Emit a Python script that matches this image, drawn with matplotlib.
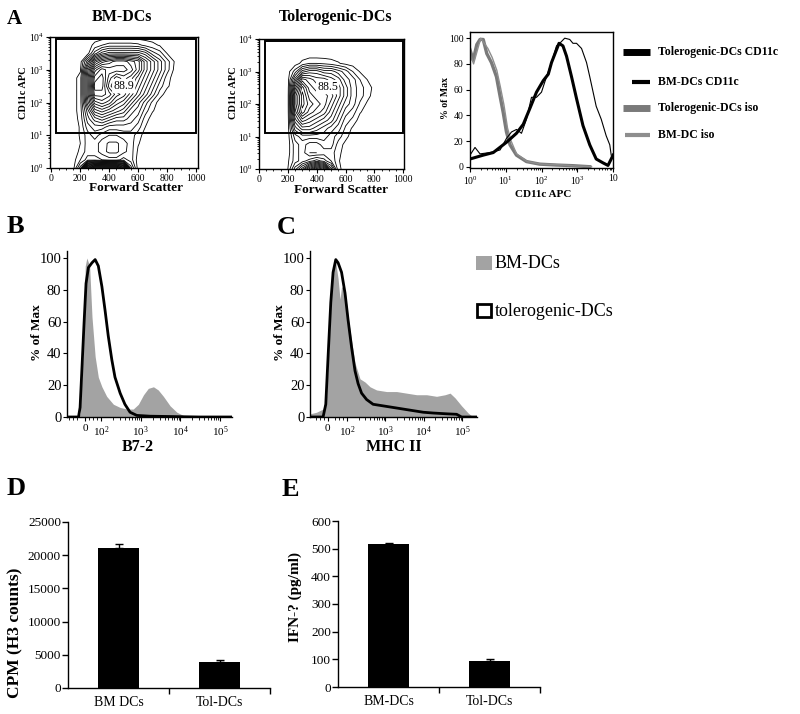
import numpy as np
import matplotlib.pyplot as plt
from matplotlib.lines import Line2D
from matplotlib.patches import Rectangle

plt.rcParams['font.family'] = ['Liberation Serif', 'DejaVu Serif']
plt.rcParams['mathtext.fontset'] = 'custom'
plt.rcParams['mathtext.rm'] = 'Liberation Serif'
plt.rcParams['axes.linewidth'] = 1.0

# ---------------- panel A: FSC vs CD11c contour maps ----------------
# density given as "contour depth" (number of enclosing contour lines)
fsc_grid = np.arange(150, 901, 50)          # forward scatter
cd11c_grid = np.arange(0, 4.01, 0.25)       # log10 CD11c APC

bm_density = np.array([
    # 150  200  250  300  350  400  450  500  550  600  650  700  750  800  850  900
    [0, 4, 15, 18, 18, 18, 18, 15, 4, 0, 0, 0, 0, 0, 0, 0],                       # 10^0
    [0, 1.5, 3, 3, 2.5, 2, 2, 3, 2, 0, 0, 0, 0, 0, 0, 0],
    [0, 0.7, 2, 2, 1, 0.2, 0.2, 1.2, 2, 0.3, 0, 0, 0, 0, 0, 0],
    [0, 0.5, 2, 2, 1, 0.3, 0.3, 1, 2, 0.6, 0, 0, 0, 0, 0, 0],
    [0, 0.6, 2, 3, 2, 1.5, 1.5, 2, 2, 1, 0, 0, 0, 0, 0, 0],                       # 10^1
    [0, 0.6, 3, 4, 4, 3, 3, 3, 3, 2, 0.5, 0, 0, 0, 0, 0],
    [0, 0.8, 4, 6, 7, 6, 5, 5, 4, 3, 1, 0, 0, 0, 0, 0],
    [0, 1, 5, 9, 10, 9, 8, 7, 5, 4, 2, 0.6, 0, 0, 0, 0],
    [0, 1, 7, 12, 13, 12, 10, 9, 7, 5, 3, 1.2, 0, 0, 0, 0],                       # 10^2
    [0, 1, 8, 15, 15, 14, 12, 11, 9, 7, 5, 3, 1, 0, 0, 0],
    [0, 1, 8, 16, 16, 12, 10, 11, 10, 8, 6, 4, 2, 0.7, 0, 0],
    [0, 1, 8, 15, 16, 13, 11, 12, 11, 9, 7, 5, 3, 1, 0, 0],
    [0, 0.3, 7, 13, 15, 14, 14, 14, 13, 11, 8, 6, 4, 2, 0.3, 0],                  # 10^3
    [0, 0, 4, 9, 11, 12, 13, 13, 12, 11, 8, 6, 4, 2, 0.5, 0],
    [0, 0, 0, 3, 5, 6, 6, 6, 6, 6, 5, 3, 2, 0.5, 0, 0],
    [0, 0, 0, 0.8, 1.5, 2, 2, 2, 2, 1.8, 1.2, 0.8, 0.4, 0, 0, 0],
    [0, 0, 0, 0, 0, 0, 0, 0, 0, 0, 0, 0, 0, 0, 0, 0],                             # 10^4
])

tol_density = np.array([
    [0, 0.5, 4, 7, 11, 14, 12, 6, 0.8, 0, 0, 0, 0, 0, 0, 0],                     # 10^0
    [0, 0.3, 2, 3, 4, 5, 4, 2.5, 0.6, 0, 0, 0, 0, 0, 0, 0],
    [0, 0, 2, 3, 1.5, 1.5, 2, 2, 0.8, 0, 0, 0, 0, 0, 0, 0],
    [0, 0, 2, 3, 2, 2, 3, 3, 1, 0.2, 0, 0, 0, 0, 0, 0],
    [0, 0, 3, 4, 4, 4, 4, 3, 2, 0.8, 0, 0, 0, 0, 0, 0],                          # 10^1
    [0, 0, 5, 7, 7, 6, 5, 4, 3, 1.3, 0.3, 0, 0, 0, 0, 0],
    [0, 0, 7, 10, 9, 8, 7, 6, 4, 2, 1.2, 0, 0, 0, 0, 0],
    [0, 0, 9, 13, 11, 10, 9, 7, 5, 3, 2, 0.6, 0, 0, 0, 0],
    [0, 0, 10, 14, 12, 11, 10, 8, 6, 4, 3, 1.3, 0.3, 0, 0, 0],                   # 10^2
    [0, 0, 10, 14, 11, 10, 10, 9, 7, 5, 3, 2, 0.9, 0, 0, 0],
    [0, 0, 8, 13, 10, 9, 9, 8, 7, 5, 3, 2, 1, 0.2, 0, 0],
    [0, 0, 5, 10, 9, 8, 8, 7, 6, 4, 3, 1.5, 0.5, 0, 0, 0],
    [0, 0, 2, 5, 6, 6, 5, 5, 4, 3, 1.5, 0.4, 0, 0, 0, 0],                        # 10^3
    [0, 0, 0, 0.8, 1.5, 1.5, 1.3, 1, 0.6, 0.2, 0, 0, 0, 0, 0, 0],
    [0, 0, 0, 0, 0, 0, 0, 0, 0, 0, 0, 0, 0, 0, 0, 0],
    [0, 0, 0, 0, 0, 0, 0, 0, 0, 0, 0, 0, 0, 0, 0, 0],
    [0, 0, 0, 0, 0, 0, 0, 0, 0, 0, 0, 0, 0, 0, 0, 0],                             # 10^4
])

bm_gate = (30, 1000, 1.07, 3.94)     # fsc min, fsc max, log cd11c min, max
tol_gate = (40, 1000, 1.10, 3.94)
bm_gate_pct = "88.9"
tol_gate_pct = "88.5"

# CD11c histogram overlay (x = log10 CD11c APC, y = % of max)
a_tol_x = [0, 0.37, 0.65, 1.02, 1.30, 1.49, 1.67, 1.86, 2.05, 2.19, 2.28, 2.42,
           2.49, 2.60, 2.70, 2.84, 2.98, 3.16, 3.35, 3.53, 3.72, 3.86, 3.95, 4.0]
a_tol_y = [6, 9, 11, 19, 26, 33, 45, 58, 67, 72, 81, 91,
           96, 94, 86, 70, 53, 32, 17, 6, 3, 1, 6, 9]
a_bm_x = [0, 0.14, 0.28, 0.56, 0.84, 1.02, 1.16, 1.30, 1.44, 1.58, 1.72, 1.86, 2.0,
          2.14, 2.28, 2.42, 2.51, 2.65, 2.79, 2.88, 2.98, 3.12, 3.26, 3.35, 3.53,
          3.67, 3.81, 3.91, 3.95]
a_bm_y = [9, 15, 10, 11, 13, 22, 27, 29, 26, 37, 54, 54, 58,
          70, 81, 94, 96, 100, 99, 96, 96, 92, 81, 70, 47,
          37, 24, 17, 9]
a_tol_iso_x = [0, 0.09, 0.19, 0.28, 0.37, 0.47, 0.60, 0.74, 0.84, 0.93, 1.02, 1.12,
               1.30, 1.58, 1.95, 2.42, 2.88, 3.35]
a_tol_iso_y = [91, 83, 95, 99, 99, 88, 81, 70, 55, 42, 27, 17,
               9, 4, 2, 1.3, 0.8, 0]
a_bm_iso_x = [0, 0.1, 0.2, 0.3, 0.4, 0.5, 0.62, 0.75, 0.85, 0.95, 1.05, 1.15,
              1.3, 1.6, 2.0, 2.5, 3.0, 3.4]
a_bm_iso_y = [88, 80, 90, 100, 96, 92, 85, 75, 62, 48, 30, 20,
              10, 4, 2, 1.5, 0.5, 0]
a_legend = ["Tolerogenic-DCs CD11c", "BM-DCs CD11c", "Tolerogenic-DCs iso", "BM-DC iso"]

# ---------------- panels B, C: histograms (x in display decades) ----------------
b_bm_x = [1.13, 1.39, 1.47, 1.54, 1.60, 1.64, 1.71, 1.77, 1.85, 1.93, 2.02, 2.14, 2.31,
          2.48, 2.65, 2.81, 2.94, 3.07, 3.19, 3.32, 3.44, 3.57, 3.74, 3.91, 4.07, 4.32, 5.3]
b_bm_y = [0, 0, 2, 38, 95, 100, 95, 63, 38, 25, 19, 13, 8,
          6, 5, 5, 8, 14, 18, 19, 17, 13, 7, 3, 1, 0, 0]
b_tol_x = [1.13, 1.43, 1.47, 1.51, 1.57, 1.62, 1.68, 1.77, 1.85, 1.93, 2.02, 2.10,
           2.18, 2.27, 2.35, 2.48, 2.60, 2.73, 2.90, 3.23, 4.49, 5.3]
b_tol_y = [0, 0, 6, 27, 59, 84, 94, 97, 99, 95, 82, 67,
           51, 36, 25, 15, 8, 3, 1, 0.5, 0, 0]

c_bm_x = [1.04, 1.21, 1.38, 1.47, 1.54, 1.60, 1.66, 1.71, 1.77, 1.82, 1.86, 1.95, 2.03,
          2.12, 2.21, 2.34, 2.47, 2.60, 2.77, 3.03, 3.29, 3.55, 3.81, 4.07, 4.33, 4.55,
          4.68, 4.81, 4.98, 5.15, 5.28]
c_bm_y = [2, 3, 5, 13, 48, 80, 98, 97, 87, 74, 82, 80, 63,
          48, 34, 24, 22, 19, 17, 16, 16, 15, 14, 14, 13, 14,
          15, 12, 7, 2.5, 0]
c_tol_x = [1.04, 1.38, 1.45, 1.51, 1.58, 1.64, 1.71, 1.77, 1.86, 1.95, 2.03, 2.12, 2.21,
           2.29, 2.38, 2.51, 2.68, 2.94, 3.20, 3.46, 3.72, 3.98, 4.24, 4.59, 4.85, 4.98, 5.38]
c_tol_y = [0, 0, 8, 38, 72, 91, 99, 97, 91, 78, 61, 44, 29,
           21, 15, 11, 8, 7, 6, 5, 4, 3, 2.5, 2, 1.7, 0, 0]
bc_legend = ["BM-DCs", "tolerogenic-DCs"]

# ---------------- panels D, E: bars ----------------
d_groups = ["BM DCs", "Tol-DCs"]
d_cpm = [21150, 3900]
d_err = [600, 350]
e_groups = ["BM-DCs", "Tol-DCs"]
e_ifn = [516, 93]
e_err = [5, 10]

# ---------------- layout helpers (pixel -> figure fraction) ----------------
W, H = 800, 714
fig = plt.figure(figsize=(W / 100, H / 100), dpi=100)


def rect(l, t, r, b):
    return [l / W, 1 - b / H, (r - l) / W, (b - t) / H]


def ftext(x, y, s, **kw):
    fig.text(x / W, 1 - y / H, s, **kw)


def log_minor(d0, d1):
    return [d + np.log10(k) for d in range(d0, d1) for k in range(2, 10)]


def pow_labels(exps):
    return [r'$\mathregular{10^{%d}}$' % e for e in exps]


def flow_panel(box, density, gate, pct, pct_xy, xlim):
    ax = fig.add_axes(box)
    ax.contour(fsc_grid, cd11c_grid, density, levels=np.arange(0.5, 20, 1),
               colors='k', linewidths=0.6)
    ax.add_patch(Rectangle((gate[0], gate[2]), gate[1] - gate[0], gate[3] - gate[2],
                           fill=False, lw=1.4, ec='k', zorder=3))
    ax.text(pct_xy[0], pct_xy[1], pct, fontsize=8.5, ha='center', va='center',
            bbox=dict(boxstyle='round,pad=0.1', fc='white', ec='none'))
    ax.set_xlim(xlim)
    ax.set_ylim(0, 4)
    ax.set_xticks(range(0, 1001, 200))
    ax.set_xticks(range(0, 1001, 50), minor=True)
    ax.set_yticks(range(5))
    ax.set_yticklabels(pow_labels(range(5)))
    ax.set_yticks(log_minor(0, 4), minor=True)
    ax.tick_params(direction='out', length=3, width=0.8, labelsize=7, pad=1.5)
    ax.tick_params(which='minor', direction='out', length=1.5, width=0.6)
    return ax


flow_panel(rect(50, 37, 198, 168), bm_density, bm_gate, bm_gate_pct, (500, 2.5), (-10, 1015))
flow_panel(rect(259, 39, 404, 169), tol_density, tol_gate, tol_gate_pct, (475, 2.52), (0, 1005))

# CD11c overlay histogram
ax = fig.add_axes(rect(470, 32, 613, 168))
ax.plot(a_tol_iso_x, a_tol_iso_y, color='#7a7a7a', lw=2.4)
ax.plot(a_bm_iso_x, a_bm_iso_y, color='#8e8e8e', lw=1.0)
ax.plot(a_bm_x, a_bm_y, color='k', lw=0.8)
ax.plot(a_tol_x, a_tol_y, color='k', lw=2.2)
ax.set_xlim(0, 4)
ax.set_ylim(-1, 104.8)
ax.set_xticks(range(5))
ax.set_xticklabels(pow_labels(range(4)) + ['10'])
ax.set_xticks(log_minor(0, 4), minor=True)
ax.set_yticks(range(0, 101, 20))
ax.tick_params(direction='out', length=3, width=0.8, labelsize=7, pad=1.5)
ax.tick_params(which='minor', direction='out', length=1.5, width=0.6)

leg_style = [(52, 5.0, 'k', 623), (82, 3.0, 'k', 632), (108, 5.0, '#7a7a7a', 623), (135, 3.0, '#8e8e8e', 625)]
for (yy, lw, col, x0), lab in zip(leg_style, a_legend):
    fig.add_artist(Line2D([x0 / W, 650 / W], [1 - yy / H] * 2, lw=lw, color=col,
                          solid_capstyle='butt'))
    ftext(658, yy, lab, fontsize=8.5, fontweight='bold', va='center')


def hist_panel(box, bm_x, bm_y, tol_x, tol_y, xlim, zero_pos):
    ax = fig.add_axes(box)
    ax.fill_between(bm_x, bm_y, 0, color='#a3a3a3', lw=0)
    ax.plot(tol_x, tol_y, color='k', lw=2.0)
    ax.set_xlim(xlim)
    ax.set_ylim(0, 104.4)
    for s in ('top', 'right'):
        ax.spines[s].set_visible(False)
    ax.set_xticks([zero_pos, 2, 3, 4, 5])
    ax.set_xticklabels(['0'] + pow_labels(range(2, 6)))
    ax.set_xticks([1.2, 1.3, 1.4, 1.7, 1.8, 1.9] + log_minor(2, 5), minor=True)
    ax.set_yticks(range(0, 101, 20))
    ax.tick_params(axis='x', direction='out', length=3, width=0.8, labelsize=8, pad=2)
    ax.tick_params(axis='x', which='minor', direction='out', length=2, width=0.6)
    ax.tick_params(axis='y', direction='out', length=3, width=0.8, labelsize=10.5, pad=1)
    return ax


hist_panel(rect(67, 251, 232, 417), b_bm_x, b_bm_y, b_tol_x, b_tol_y, (1.14, 5.3), 1.6)
hist_panel(rect(310, 251, 477, 417), c_bm_x, c_bm_y, c_tol_x, c_tol_y, (1.04, 5.38), 1.5)

fig.add_artist(Rectangle((476 / W, 1 - 270 / H), 16 / W, 14 / H, transform=fig.transFigure,
                         fc='#a3a3a3', ec='none'))
fig.add_artist(Rectangle((477 / W, 1 - 317 / H), 14 / W, 13 / H, transform=fig.transFigure,
                         fc='white', ec='k', lw=2))
ftext(495, 263, bc_legend[0], fontsize=13, va='center')
ftext(495, 311, bc_legend[1], fontsize=13, va='center')


def bar_panel(box, groups, vals, errs, ymax, ystep):
    ax = fig.add_axes(box)
    xs = np.arange(len(groups))
    ax.bar(xs, vals, width=0.41, color='k')
    ax.errorbar(xs, vals, yerr=[np.zeros(len(vals)), errs], fmt='none', ecolor='k',
                elinewidth=1, capsize=3, capthick=1)
    ax.set_xlim(-0.5, len(groups) - 0.5)
    ax.set_ylim(0, ymax)
    ax.set_yticks(np.arange(0, ymax + 1, ystep))
    ax.set_xticks(xs)
    ax.set_xticklabels(groups)
    ax.set_xticks(xs + 0.5, minor=True)
    for s in ('top', 'right'):
        ax.spines[s].set_visible(False)
    ax.tick_params(axis='x', length=0, labelsize=10, pad=6)
    ax.tick_params(axis='x', which='minor', direction='out', length=4, width=1)
    ax.tick_params(axis='y', direction='out', length=4, width=1, labelsize=9.5, pad=1)
    return ax


bar_panel(rect(68, 522, 270, 688), d_groups, d_cpm, d_err, 25000, 5000)
bar_panel(rect(338, 521, 540, 687), e_groups, e_ifn, e_err, 600, 100)

# ---------------- text labels ----------------
ftext(7, 24, 'A', fontsize=15, fontweight='bold')
ftext(7, 233, 'B', fontsize=19, fontweight='bold')
ftext(277, 234, 'C', fontsize=19, fontweight='bold')
ftext(7, 495, 'D', fontsize=19, fontweight='bold')
ftext(282, 496, 'E', fontsize=19, fontweight='bold')

ftext(122, 21, 'BM-DCs', fontsize=11.5, fontweight='bold', ha='center')
ftext(336, 21, 'Tolerogenic-DCs', fontsize=11.5, fontweight='bold', ha='center')

ftext(23, 93, 'CD11c APC', fontsize=7.5, fontweight='bold', rotation=90, ha='center', va='center')
ftext(233, 93, 'CD11c APC', fontsize=7.5, fontweight='bold', rotation=90, ha='center', va='center')
ftext(136, 188, 'Forward Scatter', fontsize=9.5, fontweight='bold', ha='center', va='center')
ftext(341, 190, 'Forward Scatter', fontsize=9.5, fontweight='bold', ha='center', va='center')
ftext(446, 98, '% of Max', fontsize=7, fontweight='bold', rotation=90, ha='center', va='center')
ftext(543, 195, 'CD11c APC', fontsize=8, fontweight='bold', ha='center', va='center')

ftext(37, 333, '% of Max', fontsize=9.5, fontweight='bold', rotation=90, ha='center', va='center')
ftext(280, 333, '% of Max', fontsize=9.5, fontweight='bold', rotation=90, ha='center', va='center')
ftext(138, 447, 'B7-2', fontsize=11.5, fontweight='bold', ha='center', va='center')
ftext(394, 447, 'MHC II', fontsize=11.5, fontweight='bold', ha='center', va='center')

ftext(15, 633, 'CPM (H3 counts)', fontsize=12.5, fontweight='bold', rotation=90, ha='center', va='center')
ftext(295, 597, 'IFN-? (pg/ml)', fontsize=11, fontweight='bold', rotation=90, ha='center', va='center')

fig.savefig('out.png', dpi=100)
